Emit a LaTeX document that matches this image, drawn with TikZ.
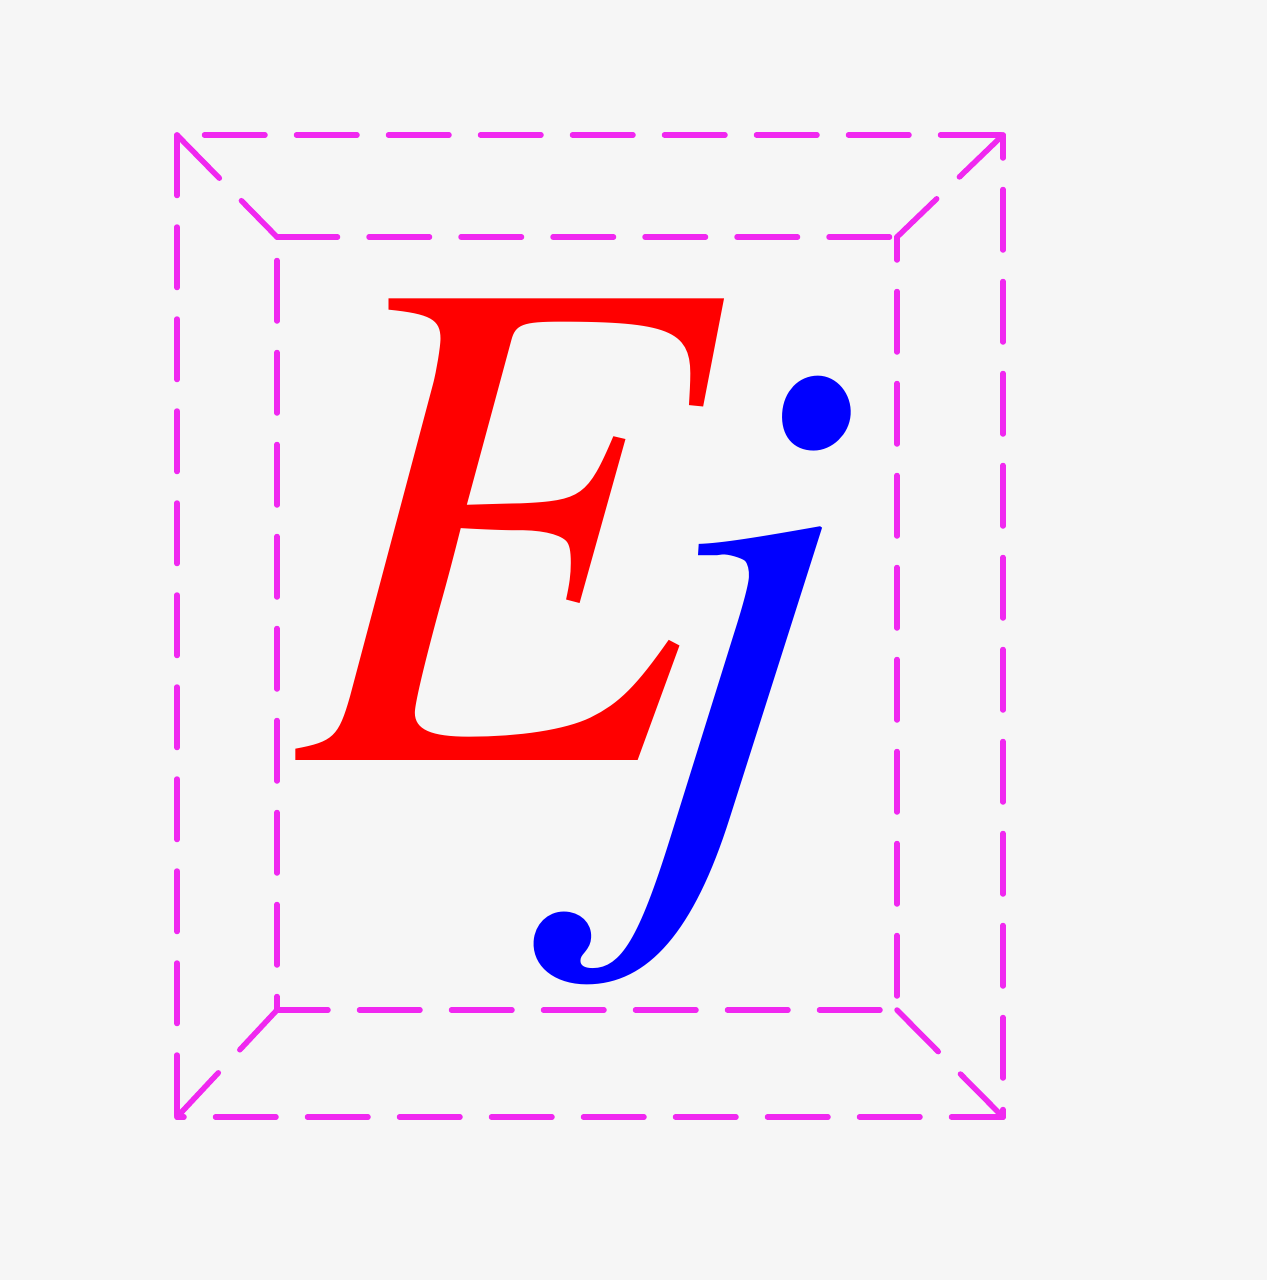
\documentclass[tikz,border=0pt]{standalone}
\usepackage{mathptmx}
\definecolor{bg}{HTML}{F6F6F6}
\definecolor{frame}{HTML}{F028F0}
\definecolor{letterE}{HTML}{FF0000}
\definecolor{letterj}{HTML}{0000FF}
\begin{document}
\begin{tikzpicture}[x=1pt,y=-1pt,
  frameline/.style={draw=frame,line width=5.5pt,line cap=round,dash pattern=on 60.5pt off 31.5pt},
  glyph/.style={inner sep=0pt,outer sep=0pt,anchor=base west}]
\fill[bg] (0,0) rectangle (1267,1280);
\useasboundingbox (0,0) rectangle (1267,1280);
% corners
\coordinate (OTL) at (177,135);
\coordinate (OTR) at (1003,135);
\coordinate (OBL) at (177,1117);
\coordinate (OBR) at (1003,1117);
\coordinate (ITL) at (277,237);
\coordinate (ITR) at (897,237);
\coordinate (IBL) at (277,1010);
\coordinate (IBR) at (897,1010);
% outer frame
\draw[frameline,dash phase=0pt]    (OTL) -- (OBL);
\draw[frameline,dash phase=37.5pt] (OTR) -- (OBR);
\draw[frameline,dash phase=64.5pt] (OTL) -- (OTR);
\draw[frameline,dash phase=53.5pt] (OBL) -- (OBR);
% inner frame
\draw[frameline,dash phase=68.5pt] (ITL) -- (IBL);
\draw[frameline,dash phase=37.5pt] (ITR) -- (IBR);
\draw[frameline,dash phase=0pt]    (ITL) -- (ITR);
\draw[frameline,dash phase=9.5pt]  (IBL) -- (IBR);
% bevels
\draw[frameline] (OTL) -- (ITL);
\draw[frameline] (OTR) -- (ITR);
\draw[frameline] (OBL) -- (IBL);
\draw[frameline] (OBR) -- (IBR);
% letters
\node[glyph,text=letterE,xscale=0.955] (E) at (296,760) {\fontsize{707}{707}\selectfont$E$};
\node[glyph,text=letterj,xslant=0.065] (j) at (522,838) {\fontsize{707}{707}\selectfont$j$};
\end{tikzpicture}
\end{document}
